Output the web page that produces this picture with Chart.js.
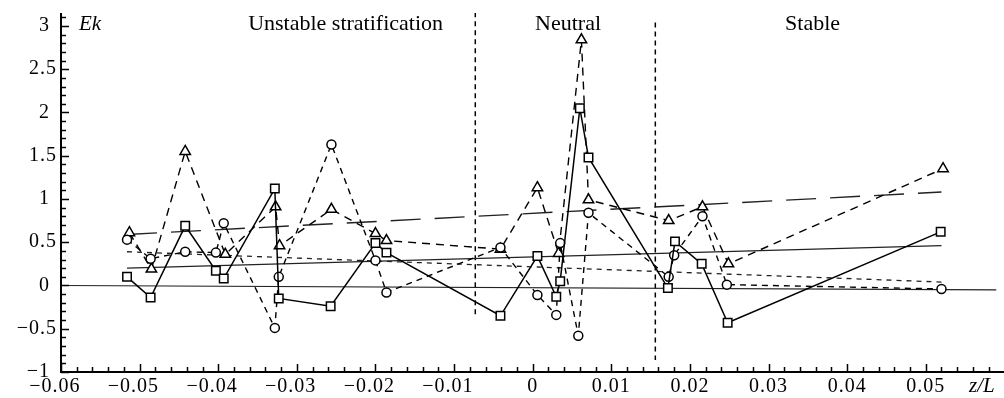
<!DOCTYPE html>
<html>
<head>
<meta charset="utf-8">
<script src="https://cdn.jsdelivr.net/npm/chart.js@4.4.1/dist/chart.umd.min.js"></script>
<style>
  html, body { margin: 0; padding: 0; background: #fff; }
  #wrap { width: 1004px; height: 398px; }
</style>
</head>
<body>
<div id="wrap"><canvas id="ekChart" width="1004" height="398"></canvas></div>
<script>
// --- data ---
const squareX = [-0.0516, -0.0486, -0.0442, -0.0403, -0.0393, -0.0328, -0.0323, -0.0257, -0.0200, -0.0186, -0.0041, 0.0006, 0.0030, 0.0035, 0.0060, 0.0071, 0.0172, 0.0181, 0.0215, 0.0248, 0.0519];
const squareY = [0.10, -0.14, 0.69, 0.17, 0.08, 1.12, -0.15, -0.24, 0.49, 0.38, -0.35, 0.34, -0.13, 0.05, 2.05, 1.48, -0.03, 0.51, 0.25, -0.43, 0.62];

const triangleX = [-0.0513, -0.0485, -0.0442, -0.0391, -0.0327, -0.0322, -0.0256, -0.0200, -0.0186, -0.0041, 0.0006, 0.0033, 0.0062, 0.0071, 0.0173, 0.0216, 0.0249, 0.0522];
const triangleY = [0.61, 0.19, 1.55, 0.36, 0.91, 0.46, 0.88, 0.60, 0.52, 0.42, 1.13, 0.37, 2.84, 0.99, 0.75, 0.91, 0.25, 1.35];

const circleX = [-0.0516, -0.0486, -0.0442, -0.0403, -0.0393, -0.0328, -0.0323, -0.0256, -0.0200, -0.0186, -0.0041, 0.0006, 0.0030, 0.0035, 0.0058, 0.0071, 0.0173, 0.0180, 0.0216, 0.0247, 0.0520];
const circleY = [0.53, 0.31, 0.39, 0.38, 0.72, -0.49, 0.10, 1.63, 0.29, -0.08, 0.44, -0.11, -0.34, 0.49, -0.58, 0.84, 0.10, 0.35, 0.80, 0.01, -0.04];

// fitted trend lines (end points)
const trendX = [-0.0516, 0.0520];
const triangleTrendY = [0.59, 1.08];
const squareTrendY = [0.20, 0.46];
const circleTrendY = [0.39, 0.04];
const zeroLineX = [-0.06, 0.059];
const zeroLineY = [0.0, -0.05];

// regime dividers
const dividerX = [-0.0073, 0.0156];
const dividerTop = [3.16, 3.04];
const dividerBottom = [-0.36, -0.86];

// axes
const xTicks = [-0.06, -0.05, -0.04, -0.03, -0.02, -0.01, 0, 0.01, 0.02, 0.03, 0.04, 0.05];
const xTickLabels = ['−0.06', '−0.05', '−0.04', '−0.03', '−0.02', '−0.01', '0', '0.01', '0.02', '0.03', '0.04', '0.05'];
const yTicks = [3, 2.5, 2, 1.5, 1, 0.5, 0, -0.5, -1];
const yTickLabels = ['3', '2.5', '2', '1.5', '1', '0.5', '0', '−0.5', '−1'];
const regionLabels = ['Unstable stratification', 'Neutral', 'Stable'];
const regionLabelX = [-0.0238, 0.0045, 0.0356];

const pts = (xs, ys) => xs.map((x, i) => ({ x: x, y: ys[i] }));

const SERIF = '"Liberation Serif", "DejaVu Serif", serif';

const framePlugin = {
    id: 'frame',
    afterDraw(chart) {
        const { ctx, chartArea: a, scales: { x, y } } = chart;
        ctx.save();
        ctx.strokeStyle = '#000';
        ctx.fillStyle = '#000';

        // axis lines
        ctx.lineWidth = 2;
        ctx.beginPath();
        ctx.moveTo(a.left, y.getPixelForValue(3.15));
        ctx.lineTo(a.left, a.bottom);
        ctx.lineTo(1004, a.bottom);
        ctx.stroke();

        // inward ticks
        ctx.lineWidth = 1.5;
        ctx.beginPath();
        for (let k = -10; k <= 31; k++) {
            const py = Math.round(y.getPixelForValue(k / 10)) + 0.5;
            const len = (k % 5 === 0) ? 8 : 5;
            ctx.moveTo(a.left, py);
            ctx.lineTo(a.left + len, py);
        }
        for (let k = -30; k <= 29; k++) {
            const px = Math.round(x.getPixelForValue(k * 0.002)) + 0.5;
            const len = (k % 5 === 0) ? 8 : 5;
            ctx.moveTo(px, a.bottom);
            ctx.lineTo(px, a.bottom - len);
        }
        ctx.stroke();

        // tick labels
        ctx.font = '20px ' + SERIF;
        ctx.letterSpacing = '1px';
        ctx.textBaseline = 'middle';
        ctx.textAlign = 'right';
        yTicks.forEach((v, i) => {
            const lab = yTickLabels[i];
            const right = lab.indexOf('.') >= 0 ? 57 : 50;
            ctx.fillText(lab, right, y.getPixelForValue(v));
        });
        ctx.textBaseline = 'alphabetic';
        ctx.textAlign = 'left';
        xTicks.forEach((v, i) => {
            const lab = xTickLabels[i];
            const num = lab.replace('−', '');
            const w = ctx.measureText(num).width;
            const full = ctx.measureText(lab).width;
            const px = x.getPixelForValue(v);
            ctx.fillText(lab, px + w / 2 - full, 392);
        });

        // axis titles
        ctx.letterSpacing = '0px';
        ctx.font = 'italic 21px ' + SERIF;
        ctx.fillText('Ek', 79, 30);
        ctx.fillText('z/L', 969, 392);

        // regime labels
        ctx.font = '22px ' + SERIF;
        ctx.textAlign = 'center';
        regionLabels.forEach((t, i) => {
            ctx.fillText(t, x.getPixelForValue(regionLabelX[i]), 30);
        });
        ctx.restore();
    }
};

const marker = { pointBackgroundColor: '#fff', pointBorderColor: '#000', pointBorderWidth: 1.5 };

const datasets = [
    Object.assign({ label: 'squares', data: pts(squareX, squareY), showLine: true,
        borderColor: '#000', borderWidth: 1.5, pointStyle: 'rect', pointRadius: 6 }, marker),
    Object.assign({ label: 'circles', data: pts(circleX, circleY), showLine: true,
        borderColor: '#000', borderWidth: 1.4, borderDash: [6, 5], pointStyle: 'circle', pointRadius: 4.5 }, marker),
    Object.assign({ label: 'triangles', data: pts(triangleX, triangleY), showLine: true,
        borderColor: '#000', borderWidth: 1.4, borderDash: [8, 6], pointStyle: 'triangle', pointRadius: 6 }, marker),
    { label: 'triangle trend', data: pts(trendX, triangleTrendY), showLine: true, pointRadius: 0,
        borderColor: '#222', borderWidth: 1.4, borderDash: [30, 14] },
    { label: 'square trend', data: pts(trendX, squareTrendY), showLine: true, pointRadius: 0,
        borderColor: '#222', borderWidth: 1.3 },
    { label: 'circle trend', data: pts(trendX, circleTrendY), showLine: true, pointRadius: 0,
        borderColor: '#222', borderWidth: 1.3, borderDash: [5, 5] },
    { label: 'zero', data: pts(zeroLineX, zeroLineY), showLine: true, pointRadius: 0,
        borderColor: '#222', borderWidth: 1.2 }
];
dividerX.forEach((dx, i) => {
    datasets.push({ label: 'divider ' + i, data: [{ x: dx, y: dividerTop[i] }, { x: dx, y: dividerBottom[i] }],
        showLine: true, pointRadius: 0, borderColor: '#000', borderWidth: 1.5, borderDash: [5, 4] });
});

new Chart(document.getElementById('ekChart'), {
    type: 'scatter',
    data: { datasets: datasets },
    options: {
        responsive: false,
        devicePixelRatio: 1,
        animation: false,
        events: [],
        layout: { padding: { left: 61, top: 13, right: 3, bottom: 26 } },
        plugins: { legend: { display: false }, tooltip: { enabled: false } },
        elements: { line: { tension: 0, fill: false } },
        scales: {
            x: { type: 'linear', display: false, min: -0.06, max: 0.059 },
            y: { type: 'linear', display: false, min: -1, max: 3.15 }
        }
    },
    plugins: [framePlugin]
});
</script>
</body>
</html>
